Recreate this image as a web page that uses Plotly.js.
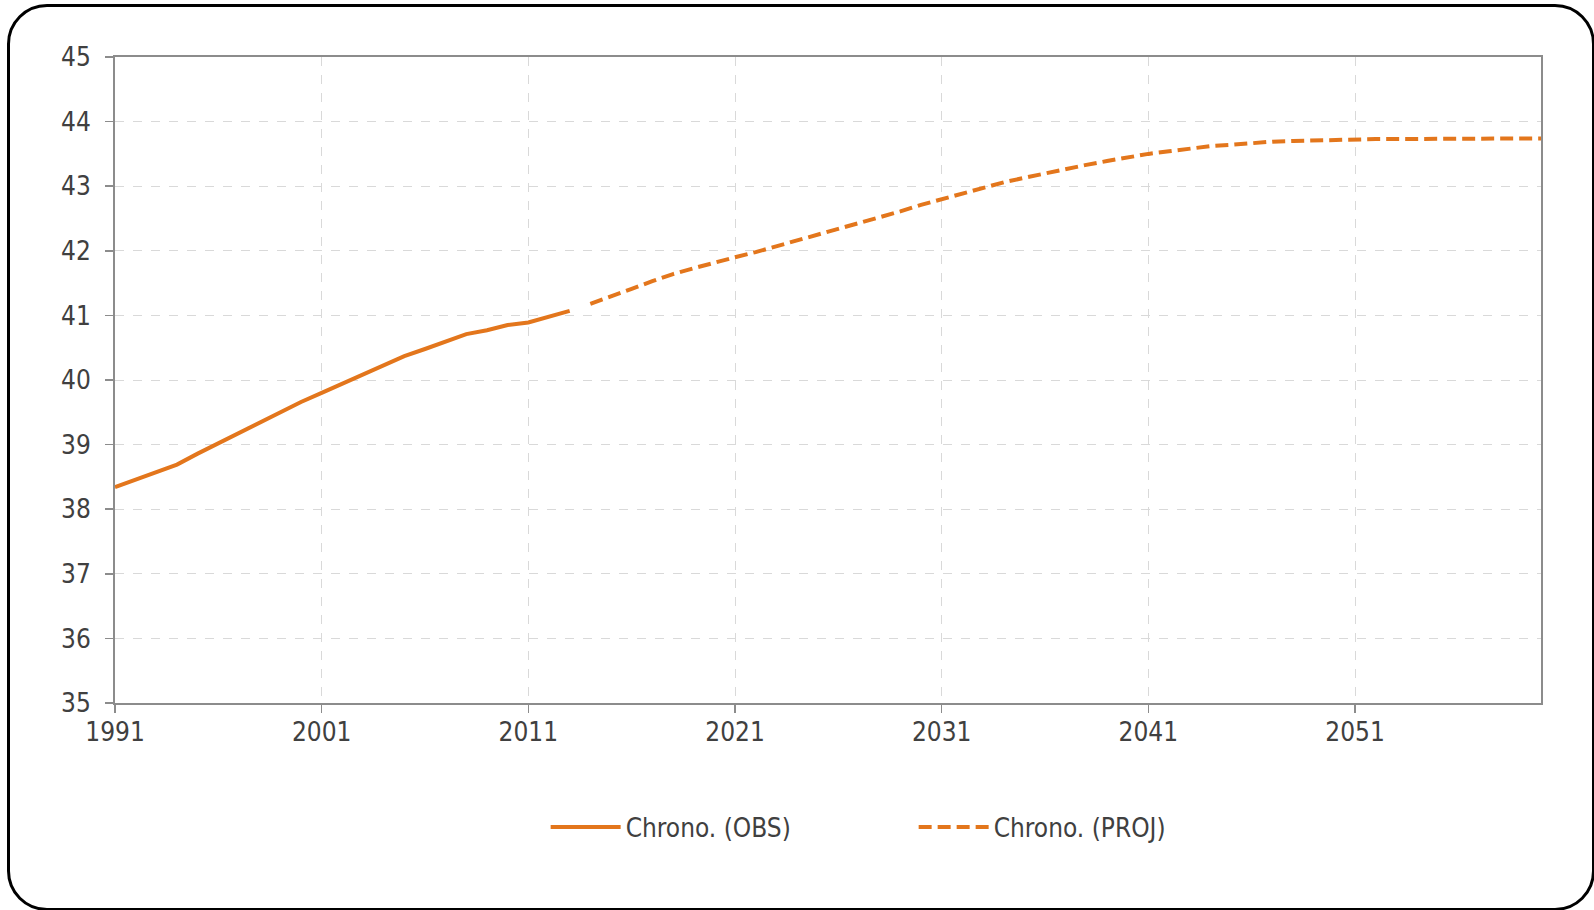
<!DOCTYPE html>
<html>
<head>
<meta charset="utf-8">
<script src="https://cdn.plot.ly/plotly-3.0.1.min.js"></script>
<style>
  html, body { margin:0; padding:0; background:#fff; overflow:hidden; width:1594px; height:910px; }
  #chart { position:absolute; left:0; top:0; width:1594px; height:910px; }
  #frame { position:absolute; left:7px; top:4px; width:1588px; height:907px; box-sizing:border-box;
           border:3px solid #000; border-radius:40px; pointer-events:none; z-index:5; }
</style>
</head>
<body>
<div id="chart"></div>
<div id="frame"></div>
<script>
const obsYears = [1991,1992,1993,1994,1995,1996,1997,1998,1999,2000,2001,2002,2003,2004,2005,2006,2007,2008,2009,2010,2011,2012,2013];
const obsValues = [38.34,38.46,38.57,38.69,38.86,39.02,39.19,39.35,39.51,39.66,39.80,39.94,40.08,40.22,40.37,40.48,40.59,40.71,40.77,40.85,40.89,40.98,41.07];

const projYears = [2014,2015,2016,2017,2018,2019,2020,2021,2022,2023,2024,2025,2026,2027,2028,2029,2030,2031,2032,2033,2034,2035,2036,2037,2038,2039,2040,2041,2042,2043,2044,2045,2046,2047,2048,2049,2050,2051,2052,2053,2054,2055,2056,2057,2058,2059,2060];
const projValues = [41.18,41.29,41.41,41.53,41.64,41.73,41.82,41.90,41.98,42.07,42.16,42.24,42.33,42.43,42.52,42.61,42.71,42.80,42.89,42.98,43.06,43.13,43.20,43.27,43.33,43.39,43.45,43.50,43.54,43.58,43.62,43.64,43.67,43.69,43.70,43.71,43.72,43.72,43.73,43.73,43.73,43.73,43.73,43.74,43.74,43.74,43.74];

const xTickVals = [1991,2001,2011,2021,2031,2041,2051];
const xTickText = ['1991','2001','2011','2021','2031','2041','2051'];
const seriesNames = ['Chrono. (OBS)','Chrono. (PROJ)'];

const orange = '#E3761C';
const fontFam = 'DejaVu Sans Condensed, DejaVu Sans, sans-serif';

const traces = [
  { x: obsYears, y: obsValues, name: seriesNames[0], type:'scatter', mode:'lines',
    line:{color:orange, width:4} },
  { x: projYears, y: projValues, name: seriesNames[1], type:'scatter', mode:'lines',
    line:{color:orange, width:4, dash:'13px,6px'} }
];

const layout = {
  width:1594, height:910,
  margin:{l:115, r:53, t:57, b:207},
  paper_bgcolor:'rgba(0,0,0,0)', plot_bgcolor:'#fff',
  font:{family:fontFam, size:26, color:'#404040'},
  showlegend:true,
  legend:{orientation:'h', x:0.302, xanchor:'left', y:-0.192, yanchor:'middle',
          itemwidth:70, entrywidth:283, entrywidthmode:'pixels',
          font:{family:fontFam, size:26, color:'#404040'}, bgcolor:'rgba(0,0,0,0)'},
  xaxis:{range:[1991,2060], tickmode:'array', tickvals:xTickVals, ticktext:xTickText,
         showline:true, linecolor:'#8c8c8c', linewidth:2, mirror:true,
         ticks:'outside', ticklen:8, tickwidth:1.5, tickcolor:'#8c8c8c',
         ticklabelstandoff:-3,
         showgrid:true, gridcolor:'#d9d9d9', gridwidth:1, griddash:'dash',
         zeroline:false, fixedrange:true},
  yaxis:{range:[35,45], tick0:35, dtick:1,
         showline:true, linecolor:'#8c8c8c', linewidth:2, mirror:true,
         ticks:'outside', ticklen:8, tickwidth:1.5, tickcolor:'#8c8c8c',
         ticklabelstandoff:9,
         showgrid:true, gridcolor:'#d9d9d9', gridwidth:1, griddash:'dash',
         zeroline:false, fixedrange:true}
};

Plotly.newPlot('chart', traces, layout, {staticPlot:true, displayModeBar:false});
</script>
</body>
</html>
